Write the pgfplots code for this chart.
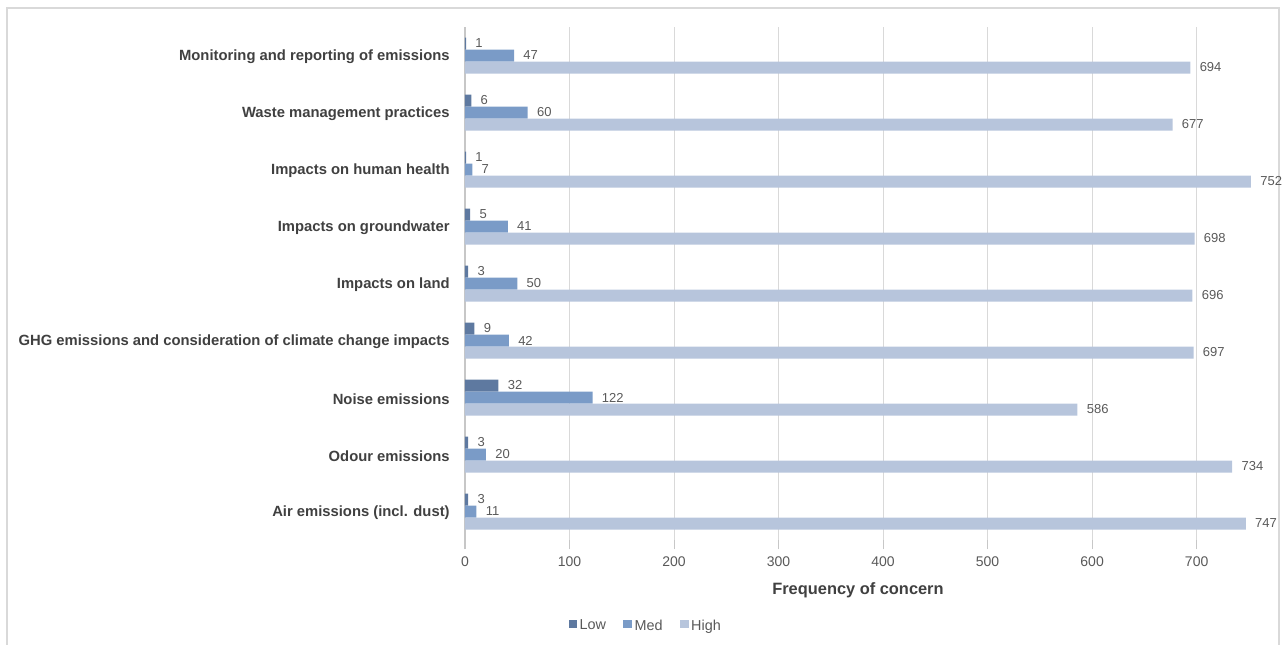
\documentclass[border=0pt]{standalone}
\usepackage{pgfplots}
\pgfplotsset{compat=1.18}
\usepackage{fontspec}
\setmainfont{Liberation Sans}
\definecolor{cLow}{HTML}{5E79A0}
\definecolor{cMed}{HTML}{7A9BC7}
\definecolor{cHigh}{HTML}{B7C5DC}
\definecolor{cGrid}{HTML}{D9D9D9}
\definecolor{cTxt}{HTML}{595959}
\definecolor{cLab}{HTML}{404040}
\begin{document}
\begin{tikzpicture}
\useasboundingbox (-348.75pt,-78pt) rectangle (612.75pt,405pt);
\draw[cGrid,line width=1pt] (-343.5pt,-80pt) -- (-343.5pt,399pt) -- (610.5pt,399pt) -- (610.5pt,-80pt);
\begin{axis}[
  at={(0,0)}, anchor=south west,
  scale only axis, width=589.5pt, height=384.75pt,
  xbar, bar width=9pt,
  xmin=0, xmax=752, ymin=-0.5, ymax=8.5,
  clip=false,
  axis x line*=bottom, axis y line*=left,
  x axis line style={draw=none},
  y axis line style={draw=cGrid!80!gray, line width=0.8pt},
  xtick={0,100,...,700},
  xmajorgrids, major grid style={cGrid, line width=0.8pt},
  tick align=outside, major tick length=7pt,
  xtick style={cGrid!80!gray, line width=0.8pt},
  ytick style={draw=none},
  ytick={0,...,8},
  yticklabels={Air emissions (incl. dust),Odour emissions,Noise emissions,GHG emissions and consideration of climate change impacts,Impacts on land,Impacts on groundwater,Impacts on human health,Waste management practices,Monitoring and reporting of emissions},
  yticklabel style={font=\fontsize{11.1}{13}\selectfont\bfseries, text=cLab, xshift=-1pt, yshift=-1pt},
  /pgf/number format/assume math mode=true,
  xticklabel style={font=\fontsize{10.5}{12}\selectfont, text=cTxt, yshift=-2pt},
  xlabel={Frequency of concern},
  xlabel style={font=\fontsize{12.3}{14}\selectfont\bfseries, text=cLab, yshift=-5pt},
  nodes near coords,
  every node near coord/.append style={font=\fontsize{9.75}{11}\selectfont, text=cTxt, anchor=west, xshift=3.5pt},
  legend columns=3,
  legend style={at={(0.2303,-0.1676)}, anchor=center, draw=none, fill=none,
    font=\fontsize{10.8}{12}\selectfont, text=cTxt,
    /tikz/every even column/.append style={column sep=11pt}},
  legend image code/.code={\fill[#1] (0pt,-1.8pt) rectangle (6.4pt,4.6pt);},
]
\addplot[draw=none, fill=cLow, bar shift=9pt] coordinates {(3,0) (3,1) (32,2) (9,3) (3,4) (5,5) (1,6) (6,7) (1,8)};
\addplot[draw=none, fill=cMed, bar shift=0pt] coordinates {(11,0) (20,1) (122,2) (42,3) (50,4) (41,5) (7,6) (60,7) (47,8)};
\addplot[draw=none, fill=cHigh, bar shift=-9pt] coordinates {(747,0) (734,1) (586,2) (697,3) (696,4) (698,5) (752,6) (677,7) (694,8)};
\legend{Low,Med,High}
\end{axis}
\end{tikzpicture}
\end{document}
